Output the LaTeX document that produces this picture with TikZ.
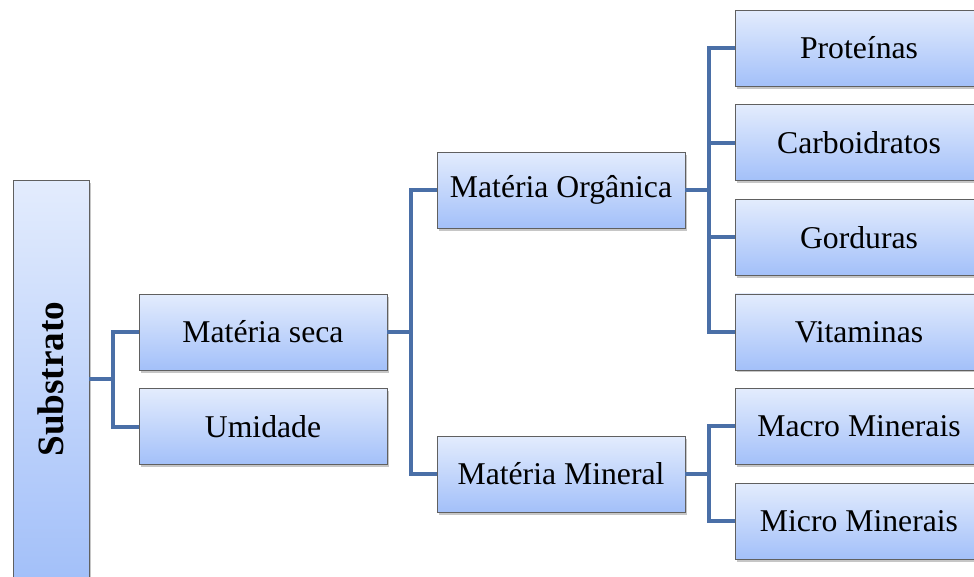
\documentclass[tikz,border=0pt]{standalone}
\usepackage{fontspec}
\setmainfont{Liberation Serif}
\usepackage{graphicx}
\usetikzlibrary{positioning,shadows}

\definecolor{boxtop}{HTML}{E3ECFD}
\definecolor{boxbot}{HTML}{A3C0F9}
\definecolor{linkblue}{HTML}{4A6FA7}

\begin{document}
\begin{tikzpicture}[
        x=1pt, y=1pt,
        node distance=18pt and 50pt,
        box/.style={draw=gray!75!black, line width=0.6pt, top color=boxtop, bottom color=boxbot,
            minimum width=248pt, minimum height=76pt, inner sep=0pt, align=center,
            font=\fontsize{31.7}{38}\selectfont,
            drop shadow={shadow xshift=2pt, shadow yshift=-2.5pt, opacity=0.45}},
        link/.style={draw=linkblue, line width=4pt}
    ]
    \useasboundingbox (0,0) rectangle (974,-576);

    % Nodes
    \node (sub)[box, minimum width=76pt, minimum height=398pt] at (51,-379)
        {\rotatebox{90}{\fontsize{37.2}{44}\selectfont\bfseries Substrato}};

    \node (seca)[box] at (263,-332) {Matéria seca};
    \node (umid)[box, below=of seca] {Umidade};

    \node (org)[box] at (561,-190) {Matéria Orgânica};
    \node (min)[box] at (561,-474) {Matéria Mineral};

    \node (prot)[box] at (859,-48) {Proteínas};
    \node (carb)[box, below=of prot] {Carboidratos};
    \node (gord)[box, below=of carb] {Gorduras};
    \node (vit)[box, below=of gord] {Vitaminas};
    \node (macro)[box, below=of vit] {Macro Minerais};
    \node (micro)[box, below=of macro] {Micro Minerais};

    % Edges
    \draw[link] (sub.east) -- ++(24,0) coordinate (j1);
    \draw[link] (j1) |- (seca.west);
    \draw[link] (j1) |- (umid.west);

    \draw[link] (seca.east) -- ++(24,0) coordinate (j2);
    \draw[link] (j2) |- (org.west);
    \draw[link] (j2) |- (min.west);

    \draw[link] (org.east) -- ++(24,0) coordinate (j3);
    \draw[link] (j3) |- (prot.west);
    \draw[link] (j3) |- (carb.west);
    \draw[link] (j3) |- (gord.west);
    \draw[link] (j3) |- (vit.west);

    \draw[link] (min.east) -- ++(24,0) coordinate (j4);
    \draw[link] (j4) |- (macro.west);
    \draw[link] (j4) |- (micro.west);

\end{tikzpicture}
\end{document}
